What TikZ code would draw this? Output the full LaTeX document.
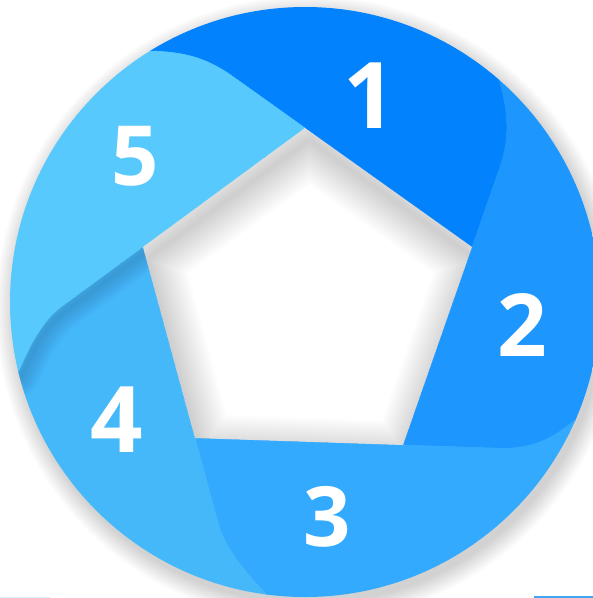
\documentclass[tikz,border=0pt]{standalone}
\usepackage{fontspec}
\newfontfamily\numfont{Open Sans}
\usetikzlibrary{calc}
\definecolor{bA}{HTML}{0282FC}
\definecolor{bB}{HTML}{1D96FE}
\definecolor{bC}{HTML}{33AAFE}
\definecolor{bD}{HTML}{45B8FA}
\definecolor{bE}{HTML}{57C9FD}
\definecolor{barblue}{HTML}{3EA6F2}
\definecolor{barfaint}{HTML}{DDEFF8}
\begin{document}
\begin{tikzpicture}[x=1pt,y=-1pt,
  num/.style={text=white, inner sep=0pt},
  blade/.style={line width=0.6pt, line join=round}]
\useasboundingbox (0,0) rectangle (593,598);
\fill[white] (0,0) rectangle (593,598);
% pentagon vertices
\coordinate (T) at (305,128);
\coordinate (R) at (472,247);
\coordinate (BR) at (403,445);
\coordinate (BL) at (195,438);
\coordinate (L) at (143,247);
% rays
\coordinate (S1) at (232,76);   \coordinate (A1) at (203.5,55.7); \coordinate (B1) at (180,52);    \coordinate (E1) at (150,51);  \coordinate (X1) at (130,50.4);
\coordinate (S2) at (500,166.8);\coordinate (A2) at (511.5,133.8);\coordinate (B2) at (506.7,105.9);\coordinate (E2) at (499,79);  \coordinate (X2) at (493.5,59.8);
\coordinate (S3) at (498,448.2);\coordinate (A3) at (533,449.4);  \coordinate (B3) at (552.2,438.4);\coordinate (E3) at (574,421); \coordinate (X3) at (589.6,408.6);
\coordinate (S4) at (218.1,522.9);\coordinate (A4) at (226,551.8);\coordinate (B4) at (250,576.8);  \coordinate (E4) at (267,595); \coordinate (X4) at (280.6,609.6);
\coordinate (S5) at (62.4,306.2);\coordinate (A5) at (39.8,322.8);\coordinate (B5) at (28.5,350.3); \coordinate (E5) at (18,373);  \coordinate (X5) at (9.6,391.2);
% far points
\coordinate (F1) at (79,-64);
\coordinate (F2) at (587,-22.5);
\coordinate (F3) at (698,476);
\coordinate (F4) at (249.6,728.4);
\coordinate (F5) at (-112.4,405.3);
\coordinate (M12) at (340,-126.6);
\coordinate (M23) at (724.7,208.6);
\coordinate (M34) at (515.8,676.8);
\coordinate (M45) at (18.6,622.7);
\coordinate (M51) at (-93.1,139.5);
\coordinate (C) at (305,302);
\coordinate (CS) at (309,309);
% outer shadow
\foreach \k in {0,...,14}
  \fill[black, opacity=0.012] (CS) circle[radius={(295+\k*1.3)*1pt}];
% blades
\begin{scope}
\clip (C) circle[radius=295pt];
\fill[bA, draw=bA, blade] (T) -- (R) -- (S2) .. controls (A2) and (B2) .. (E2) -- (X2) -- (F2) -- (M12) -- (F1) -- (X1) -- (E1) .. controls (B1) and (A1) .. (S1) -- cycle;
\fill[bB, draw=bB, blade] (R) -- (BR) -- (S3) .. controls (A3) and (B3) .. (E3) -- (X3) -- (F3) -- (M23) -- (F2) -- (X2) -- (E2) .. controls (B2) and (A2) .. (S2) -- cycle;
\fill[bC, draw=bC, blade] (BR) -- (BL) -- (S4) .. controls (A4) and (B4) .. (E4) -- (X4) -- (F4) -- (M34) -- (F3) -- (X3) -- (E3) .. controls (B3) and (A3) .. (S3) -- cycle;
\fill[bD, draw=bD, blade] (BL) -- (L) -- (S5) .. controls (A5) and (B5) .. (E5) -- (X5) -- (F5) -- (M45) -- (F4) -- (X4) -- (E4) .. controls (B4) and (A4) .. (S4) -- cycle;
\fill[bE, draw=bE, blade] (L) -- (T) -- (S1) .. controls (A1) and (B1) .. (E1) -- (X1) -- (F1) -- (M51) -- (F5) -- (X5) -- (E5) .. controls (B5) and (A5) .. (S5) -- cycle;
% shadow of blade 5 on blade 4
\begin{scope}
\clip (BL) -- (L) -- (S5) .. controls (A5) and (B5) .. (E5) -- (X5) -- (F5) -- (M45) -- (F4) -- (X4) -- (E4) .. controls (B4) and (A4) .. (S4) -- cycle;
\foreach \k in {1,...,12}
  \draw[black, opacity=0.013, line width={\k*3pt}, line cap=round]
    ($(L)+(3,5)$) -- ($(S5)+(3,5)$) .. controls ($(A5)+(3,5)$) and ($(B5)+(3,5)$) .. ($(E5)+(3,5)$);
\end{scope}
\end{scope}
% hole: white, with a soft inner shadow
\fill[white] (T) -- (R) -- (BR) -- (BL) -- (L) -- cycle;
\begin{scope}
\clip (T) -- (R) -- (BR) -- (BL) -- (L) -- cycle;
\foreach \k in {1,...,24}
  \draw[black, opacity=0.008, line width={\k*3pt}, line join=round]
    ($(T)+(4,12)$) -- ($(R)+(4,12)$) -- ($(BR)+(4,12)$) -- ($(BL)+(4,12)$) -- ($(L)+(4,12)$) -- cycle;
\end{scope}
% thin bars at the bottom edge
\fill[barfaint] (0,596.7) rectangle (50,598);
\fill[barblue] (534,596) rectangle (593,598);
% numbers
\node[num, font={\numfont\bfseries\fontsize{92}{92}\selectfont}] (n1) at (370,95.5) {1};
\node[num, font={\numfont\bfseries\fontsize{87}{87}\selectfont}] (n2) at (522.5,324.5) {2};
\node[num, font={\numfont\bfseries\fontsize{83}{83}\selectfont}] (n3) at (327.5,516.8) {3};
\node[num, font={\numfont\bfseries\fontsize{92}{92}\selectfont}] (n4) at (117,419.3) {4};
\node[num, font={\numfont\bfseries\fontsize{83}{83}\selectfont}] (n5) at (135.5,156.7) {5};
\end{tikzpicture}
\end{document}
